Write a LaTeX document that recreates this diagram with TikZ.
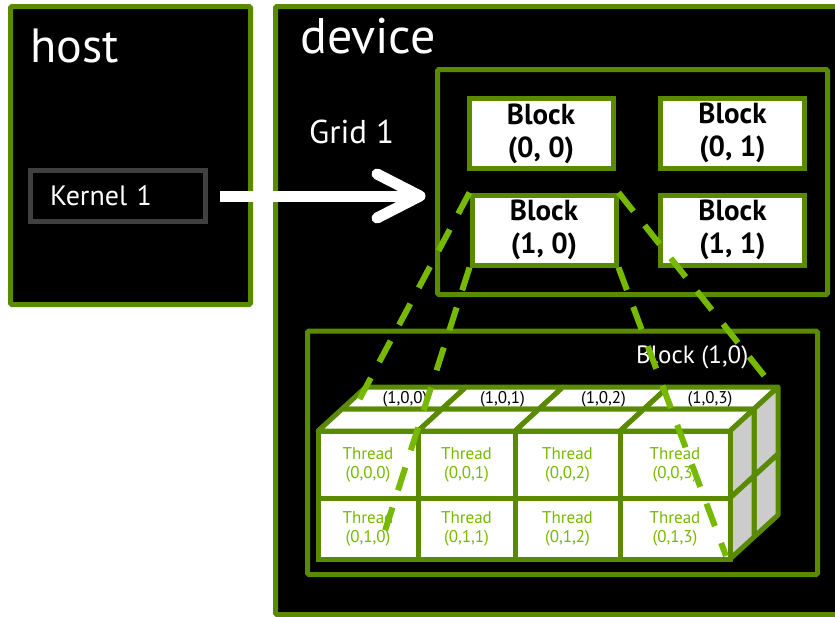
\documentclass[tikz,border=0pt]{standalone}
\usepackage{fontspec}
\setmainfont{PT Sans}
\usepackage{xcolor}

\definecolor{nvdark}{HTML}{5A8A00}
\definecolor{nvgreen}{HTML}{76B900}
\definecolor{kgray}{HTML}{404040}
\definecolor{sidegray}{HTML}{CCCCCC}

\begin{document}
\begin{tikzpicture}[x=1pt, y=-1pt,
  box/.style={draw=nvdark, line width=5pt, fill=black, rounded corners=1.5pt},
  title/.style={text=white, anchor=base west, inner sep=0pt},
  blockbox/.style={draw=nvdark, line width=5pt, fill=white, minimum width=144pt, minimum height=70pt, align=center, font=\fontsize{29}{33}\selectfont\bfseries},
  thread/.style={draw=nvdark, line width=5pt, fill=white, text=nvgreen, align=center, inner sep=0pt, font=\fontsize{17}{19}\selectfont},
  face/.style={draw=nvdark, line width=5pt, fill=white, line join=round},
  side/.style={face, fill=sidegray},
  zoomline/.style={draw=nvgreen, line width=6pt, dash pattern=on 24pt off 18pt},
  bigarrow/.style={draw=white, line width=11pt}]
\useasboundingbox (0,0) rectangle (835,616);
\fill[white] (0,0) rectangle (835,616);

% Host and device
\node[box, minimum width=240pt, minimum height=298pt] (host) at (130.5,155.5) {};
\node[box, minimum width=585pt, minimum height=608pt] (device) at (568,310.5) {};
\node[title, font=\fontsize{48}{52}\selectfont] (hostlabel) at (30,62) {host};
\node[title, font=\fontsize{50}{54}\selectfont] (devlabel) at (300,53) {device};

% Kernel
\node[draw=kgray, line width=5pt, text=white, font=\fontsize{28}{32}\selectfont, text width=135.5pt, inner xsep=20pt, minimum height=51.5pt, align=left] (kernel) at (117.75,196) {Kernel 1};

% Grid of blocks
\node[box, minimum width=390pt, minimum height=225pt] (grid) at (632.5,182) {};
\node[title, font=\fontsize{33}{38}\selectfont] (gridlabel) at (309,143) {Grid 1};
\node[blockbox] (b00) at (541,133.5) {Block\\(0, 0)};
\node[blockbox] (b01) at (732.5,133) {Block\\(0, 1)};
\node[blockbox] (b10) at (544,230) {Block\\(1, 0)};
\node[blockbox] (b11) at (732.5,230) {Block\\(1, 1)};

% Launch arrow
\coordinate (tip) at (420,196);
\draw[bigarrow, shorten <=12pt] (kernel.east) -- (tip);
\draw[bigarrow, line cap=round, line join=round] (tip) ++(-43,-22) -- (tip) -- ++(-43,22);

% Block (1,0) close-up
\node[box, minimum width=510pt, minimum height=243.5pt] (detail) at (562.5,452.75) {};
\node[title, font=\fontsize{25}{30}\selectfont] (detaillabel) at (636,363) {Block (1,0)};

% Back layer of threads
\draw[face] (342,409) -- (442,409) -- (466,387) -- (366,387) -- cycle;
\draw[face] (442,409) -- (539,409) -- (563,387) -- (466,387) -- cycle;
\draw[face] (539,409) -- (644,409) -- (668,387) -- (563,387) -- cycle;
\draw[face] (644,409) -- (754,409) -- (778,387) -- (668,387) -- cycle;
\draw[side] (754,409) -- (778,387) -- (778,454) -- (754,476) -- cycle;
\draw[side] (754,476) -- (778,454) -- (778,515) -- (754,537) -- cycle;
\node[font=\fontsize{17}{20}\selectfont] (l100) at (405,399) {(1,0,0)};
\node[font=\fontsize{17}{20}\selectfont] (l101) at (502.5,399) {(1,0,1)};
\node[font=\fontsize{17}{20}\selectfont] (l102) at (603.5,399) {(1,0,2)};
\node[font=\fontsize{17}{20}\selectfont] (l103) at (710,399) {(1,0,3)};

% Front layer of threads
\draw[face] (318,431) -- (418,431) -- (442,409) -- (342,409) -- cycle;
\draw[face] (418,431) -- (515,431) -- (539,409) -- (442,409) -- cycle;
\draw[face] (515,431) -- (620,431) -- (644,409) -- (539,409) -- cycle;
\draw[face] (620,431) -- (730,431) -- (754,409) -- (644,409) -- cycle;
\draw[side] (730,431) -- (754,409) -- (754,476) -- (730,498) -- cycle;
\draw[side] (730,498) -- (754,476) -- (754,537) -- (730,559) -- cycle;
\node[thread, minimum width=100pt, minimum height=67pt] (t000) at (368,464.5) {Thread\\(0,0,0)};
\node[thread, minimum width=97pt, minimum height=67pt] (t001) at (466.5,464.5) {Thread\\(0,0,1)};
\node[thread, minimum width=105pt, minimum height=67pt] (t002) at (567.5,464.5) {Thread\\(0,0,2)};
\node[thread, minimum width=110pt, minimum height=67pt] (t003) at (675,464.5) {Thread\\(0,0,3)};
\node[thread, minimum width=100pt, minimum height=61pt] (t010) at (368,528.5) {Thread\\(0,1,0)};
\node[thread, minimum width=97pt, minimum height=61pt] (t011) at (466.5,528.5) {Thread\\(0,1,1)};
\node[thread, minimum width=105pt, minimum height=61pt] (t012) at (567.5,528.5) {Thread\\(0,1,2)};
\node[thread, minimum width=110pt, minimum height=61pt] (t013) at (675,528.5) {Thread\\(0,1,3)};

% Zoom lines from Block (1,0)
\coordinate (z1) at (358,402);
\coordinate (z2) at (383,537);
\coordinate (z3) at (726,556);
\coordinate (z4) at (770,383);
\draw[zoomline] (b10.north west) -- (z1);
\draw[zoomline] (b10.south west) -- (z2);
\draw[zoomline] (b10.south east) -- (z3);
\draw[zoomline] (b10.north east) -- (z4);

\end{tikzpicture}
\end{document}
